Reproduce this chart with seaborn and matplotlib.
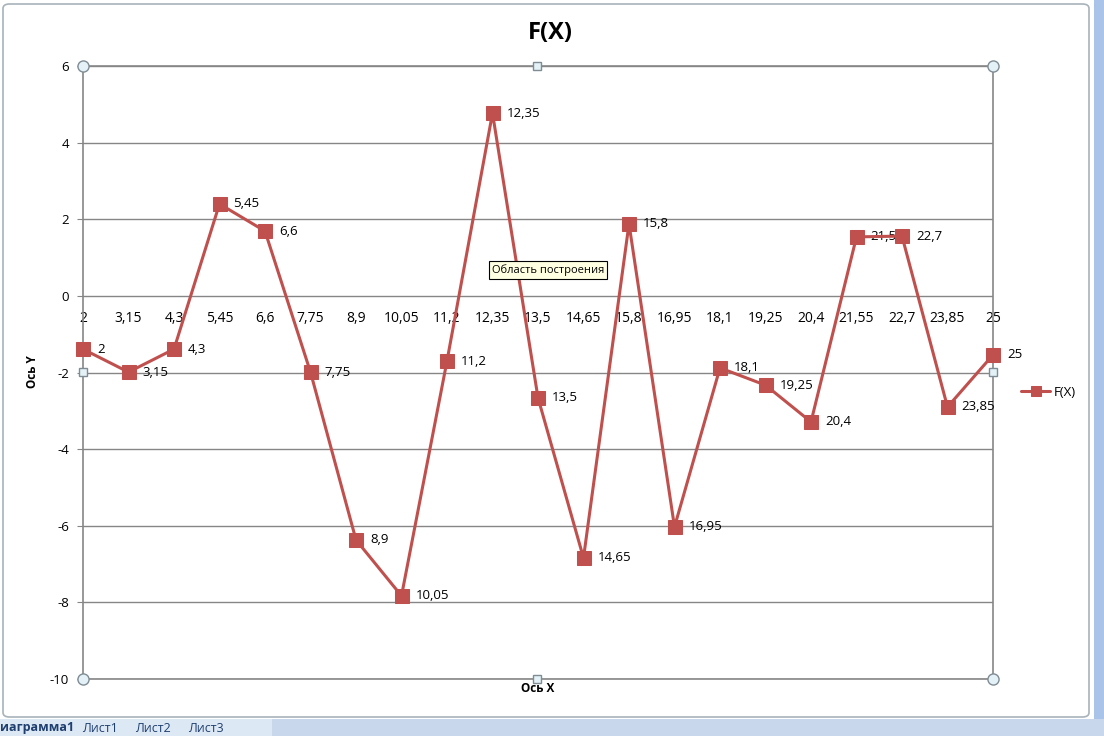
import pandas as pd
import matplotlib.pyplot as plt
import seaborn as sns
from matplotlib.patches import Rectangle, FancyBboxPatch
from matplotlib.lines import Line2D

# Data
x_labels = ['2', '3,15', '4,3', '5,45', '6,6', '7,75', '8,9', '10,05', '11,2', '12,35', '13,5',
            '14,65', '15,8', '16,95', '18,1', '19,25', '20,4', '21,55', '22,7', '23,85', '25']
y_values = [-1.39, -1.99, -1.39, 2.40, 1.69, -1.99, -6.37, -7.83, -1.70, 4.77, -2.66,
            -6.84, 1.88, -6.03, -1.88, -2.33, -3.29, 1.54, 1.56, -2.90, -1.54]
y_ticks = [6, 4, 2, 0, -2, -4, -6, -8, -10]

df = pd.DataFrame({'pos': range(len(x_labels)), 'label': x_labels, 'F(X)': y_values})

sns.set_style('white')
plt.rcParams['font.family'] = ['Open Sans', 'DejaVu Sans']
plt.rcParams['text.color'] = 'black'
plt.rcParams['xtick.color'] = 'black'
plt.rcParams['ytick.color'] = 'black'

line_color = '#C0504D'
grid_color = '#868686'

fig = plt.figure(figsize=(11.04, 7.36), dpi=100)
ax = fig.add_axes([83 / 1104, 1 - 679 / 736, (993 - 83) / 1104, (679 - 66) / 736])

sns.lineplot(x='pos', y='F(X)', data=df, ax=ax, color=line_color, linewidth=2.2,
             marker='s', markersize=9.5, markeredgecolor=line_color, sort=False,
             label='F(X)', clip_on=False, zorder=5)

# point labels (x values) to the right of each marker
for i, row in df.iterrows():
    ax.annotate(row['label'], (row['pos'], row['F(X)']), xytext=(10, 0),
                textcoords='offset points', ha='left', va='center', fontsize=9.5)

ax.set_xlim(0, len(x_labels) - 1)
ax.set_ylim(-10, 6)
ax.set_yticks(y_ticks)
ax.set_yticklabels([str(t) for t in y_ticks], fontsize=9.5)
ax.set_xticks(df['pos'])
ax.set_xticklabels(x_labels, fontsize=9.5)
ax.tick_params(axis='x', length=0, pad=11, colors='black')
ax.tick_params(axis='y', length=4, color=grid_color, labelcolor='black', pad=6, left=True)
ax.spines['bottom'].set_position(('data', 0))
ax.spines['bottom'].set_visible(False)
ax.spines['top'].set_visible(False)
for s in ['left', 'right']:
    ax.spines[s].set_color(grid_color)
    ax.spines[s].set_linewidth(1.2)
ax.yaxis.grid(True, color=grid_color, linewidth=1)
ax.axhline(-10, color=grid_color, linewidth=1.2, clip_on=False, zorder=1)
ax.axhline(6, color=grid_color, linewidth=1.2, clip_on=False, zorder=1)
ax.set_axisbelow(True)
ax.set_xlabel('')
ax.set_ylabel('')

leg = ax.legend(loc='center left', bbox_to_anchor=(1.018, 0.4675), frameon=False,
                fontsize=9.5, handlelength=2.2, handletextpad=0.3, markerscale=0.75)
for t in leg.get_texts():
    t.set_color('black')

fig.text(550 / 1104, 1 - 33 / 736, 'F(X)', ha='center', va='center', fontsize=17, fontweight='bold')
fig.text(538 / 1104, 1 - 689 / 736, 'Ось X', ha='center', va='center', fontsize=8.5, fontweight='bold')
fig.text(33 / 1104, 1 - 372 / 736, 'Ось Y', ha='center', va='center', fontsize=8.5,
         fontweight='bold', rotation=90)

# plot-area selection handles
for hx, hy in [(83, 66), (993, 66), (83, 679), (993, 679)]:
    fig.add_artist(Line2D([hx / 1104], [1 - hy / 736], marker='o', markersize=8,
                          markerfacecolor='#E4F1F7', markeredgecolor='#7F8C94',
                          markeredgewidth=1, transform=fig.transFigure, zorder=10))
for hx, hy in [(537, 66), (537, 679), (83, 372), (993, 372)]:
    fig.add_artist(Line2D([hx / 1104], [1 - hy / 736], marker='s', markersize=6,
                          markerfacecolor='#E4F1F7', markeredgecolor='#7F8C94',
                          markeredgewidth=1, transform=fig.transFigure, zorder=10))

# chart border, right strip, sheet tabs
fig.patches.append(FancyBboxPatch((3 / 1104, 1 - 717 / 736), 1086 / 1104, 713 / 736,
                                  boxstyle='round,pad=0,rounding_size=0.006',
                                  transform=fig.transFigure, fill=False,
                                  edgecolor='#A8B3BA', lw=1.2, zorder=0))
fig.patches.append(Rectangle((1094 / 1104, 0), 10 / 1104, 1, transform=fig.transFigure,
                             facecolor='#A9C4E8', edgecolor='none', zorder=0))
fig.patches.append(Rectangle((0, 0), 1, 17 / 736, transform=fig.transFigure,
                             facecolor='#C8D7EB', edgecolor='none', zorder=1))
fig.patches.append(Rectangle((0, 0), 272 / 1104, 17 / 736, transform=fig.transFigure,
                             facecolor='#DDE8F5', edgecolor='none', zorder=2))
for tx, txt, bold in [(0, 'иаграмма1', True), (82, 'Лист1', False), (135, 'Лист2', False),
                      (188, 'Лист3', False)]:
    fig.text(tx / 1104, 8 / 736, txt, ha='left', va='center', fontsize=9,
             fontweight='bold' if bold else 'normal', color='#1F3F6F', zorder=3)

# tooltip
fig.text(492 / 1104, 1 - 270 / 736, 'Область построения', ha='left', va='center', fontsize=8,
         bbox=dict(boxstyle='square,pad=0.25', facecolor='#FFFFE1', edgecolor='black', lw=0.8),
         zorder=20)

fig.savefig('out.png', dpi=100)
